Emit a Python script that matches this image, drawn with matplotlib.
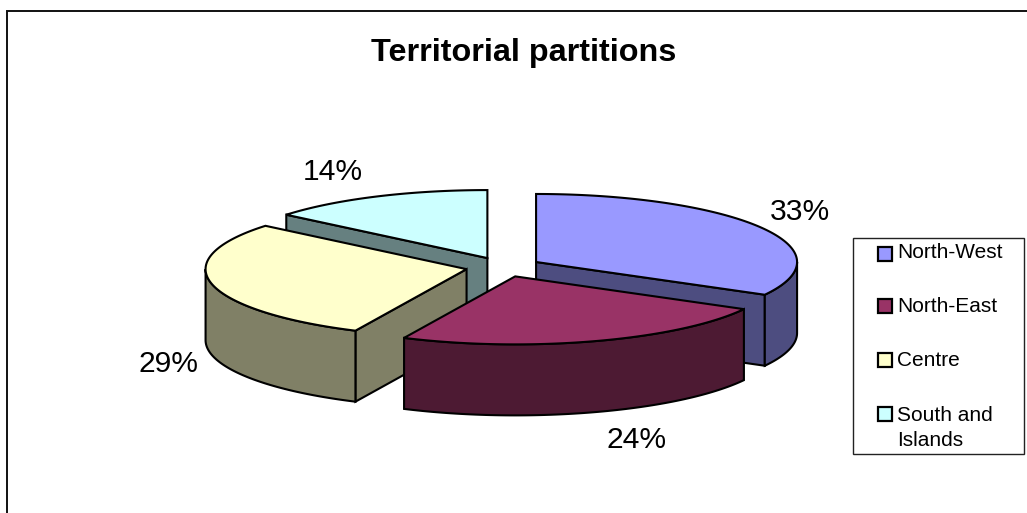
import numpy as np
import matplotlib
matplotlib.use("Agg")
import matplotlib.pyplot as plt
from matplotlib.patches import Polygon, Rectangle

plt.rcParams['font.family'] = ['Liberation Sans', 'DejaVu Sans']

# data
title = 'Territorial partitions'
regions = ['North-West', 'North-East', 'Centre', 'South and\nIslands']
shares = [33, 24, 29, 14]
top_colors = ['#9999FF', '#993366', '#FFFFCC', '#CCFFFF']
side_colors = ['#4D4D80', '#4D1A33', '#808066', '#668080']

# pie geometry, in pixels
cx, cy = 503.5, 267
rx, ry = 261, 68
depth = 71
explode = 0.145
lw = 1.5

# percent labels sit at these pixel centres
label_xy = [(800, 212.5), (637, 440), (168, 364), (333, 172)]

fig = plt.figure(figsize=(10.27, 5.13), dpi=100)
ax = fig.add_axes([0, 0, 1, 1])
ax.set_xlim(0, 1027)
ax.set_ylim(513, 0)
ax.axis('off')

# chart border
ax.add_patch(Rectangle((7, 11), 1030, 530, fc='white', ec='#111111', lw=1.4, zorder=0))

ax.text(523.5, 61, title, fontsize=23.3, fontweight='bold', ha='center', va='baseline', color='black')


def rim(ox, oy, angles):
    t = np.radians(angles)
    return np.column_stack([ox + rx * np.sin(t), oy - ry * np.cos(t)])


def draw_slice(start, end, top, side):
    mid = np.radians((start + end) / 2)
    ox = cx + explode * rx * np.sin(mid)
    oy = cy - explode * ry * np.cos(mid)
    apex = np.array([[ox, oy]])
    drop = np.array([0, depth])

    # cut faces, only the ones turned to the viewer
    for ang, show in ((start, np.sin(np.radians(start)) < -1e-6), (end, np.sin(np.radians(end)) > 1e-6)):
        if show:
            p = rim(ox, oy, [ang])
            face = np.vstack([apex, p, p + drop, apex + drop])
            ax.add_patch(Polygon(face, fc=side, ec='black', lw=lw, joinstyle='miter'))

    # outer wall, front half of the rim only
    a0, a1 = max(start, 90), min(end, 270)
    if a1 > a0:
        arc = rim(ox, oy, np.linspace(a0, a1, 80))
        ax.add_patch(Polygon(np.vstack([arc, arc[::-1] + drop]), fc=side, ec='black', lw=lw, joinstyle='miter'))

    arc = rim(ox, oy, np.linspace(start, end, 120))
    ax.add_patch(Polygon(np.vstack([apex, arc]), fc=top, ec='black', lw=lw, joinstyle='miter'))


edges = np.concatenate([[0], np.cumsum(shares)]) / np.sum(shares) * 360
# back slices first, front slice last
for i in [3, 0, 2, 1]:
    draw_slice(edges[i], edges[i + 1], top_colors[i], side_colors[i])

for s, (x, y) in zip(shares, label_xy):
    ax.text(x, y, f'{s}%', fontsize=21.6, ha='center', va='center', color='black')

# legend box
ax.add_patch(Rectangle((853, 238), 171, 216, fc='white', ec='#222222', lw=1.0))
key_y = [254, 306, 360, 414]
base_y = [258, 312, 366, 446]
for name, c, ky, by in zip(regions, top_colors, key_y, base_y):
    ax.add_patch(Rectangle((878, ky - 7), 14, 14, fc=c, ec='black', lw=1.6))
    ax.text(897, by, name, fontsize=15, ha='left', va='baseline', color='black', linespacing=1.39)

fig.savefig('out.png', dpi=100)
